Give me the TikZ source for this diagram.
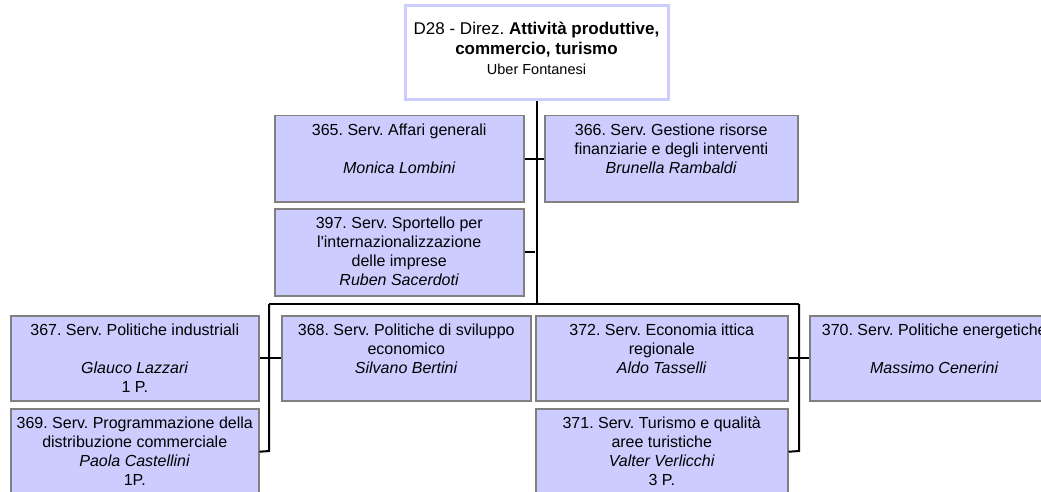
\documentclass[tikz,border=0pt]{standalone}
\usepackage{fontspec}
\setmainfont{Liberation Sans}[Ligatures=TeXOff]
\frenchspacing
\definecolor{lav}{HTML}{CCCCFF}
\definecolor{boxgray}{HTML}{808080}
\newcommand{\bx}[3]{\parbox[c][#2pt][t]{#1pt}{\centering\vspace*{6.5pt}\strut #3\par}}
\tikzset{
  unit/.style={draw=boxgray, fill=lav, line width=1.5pt, inner sep=0pt, anchor=north west,
    font=\fontsize{16}{19}\selectfont},
  headbox/.style={draw=lav, fill=white, line width=3pt, inner sep=0pt, anchor=north west,
    font=\fontsize{17}{20}\selectfont},
  conn/.style={draw=black, line width=2pt}
}
\begin{document}
\begin{tikzpicture}[x=1pt,y=-1pt]
\useasboundingbox (0,0) rectangle (1041,492);
\clip (0,0) rectangle (1041,492);
% head
\node[headbox] (head) at (403.5,4.5) {\parbox[c][94pt][t]{263pt}{\centering\vspace*{14.5pt}\strut D28 - Direz. \textbf{Attività produttive,}\\ \textbf{commercio, turismo}\\ {\fontsize{14.5}{20}\selectfont Uber Fontanesi}\par}};
% junctions
\coordinate (bar) at (535,304);
\coordinate (left) at (269,304);
\coordinate (right) at (799,304);
\coordinate (lend) at (269,451);
\coordinate (rend) at (799,451);
% connectors
\draw[conn] (head.south) -- (head.south |- bar);
\draw[conn] (left) -- (right);
% boxes
\node[unit] (s365) at (274,115) {\bx{249}{86}{365. Serv. Affari generali\\ \mbox{}\\ \textit{Monica Lombini}}};
\node[unit] (s366) at (544,115) {\bx{253}{86}{366. Serv. Gestione risorse\\ finanziarie e degli interventi\\ \textit{Brunella Rambaldi}}};
\node[unit] (s397) at (274,208) {\bx{249}{87}{397. Serv. Sportello per\\ l'internazionalizzazione\\ delle imprese\\ \textit{Ruben Sacerdoti}}};
\node[unit] (s367) at (10,315) {\bx{248}{85}{367. Serv. Politiche industriali\\ \mbox{}\\ \textit{Glauco Lazzari}\\ 1 P.}};
\node[unit] (s368) at (281,315) {\bx{249}{85}{368. Serv. Politiche di sviluppo\\ economico\\ \textit{Silvano Bertini}}};
\node[unit] (s369) at (10,408) {\bx{248}{86}{369. Serv. Programmazione della\\ distribuzione commerciale\\ \textit{Paola Castellini}\\ 1P.}};
\node[unit] (s372) at (535,315) {\bx{252}{85}{372. Serv. Economia ittica\\ regionale\\ \textit{Aldo Tasselli}}};
\node[unit] (s370) at (809,315) {\bx{249}{85}{370. Serv. Politiche energetiche\\ \mbox{}\\ \textit{Massimo Cenerini}}};
\node[unit] (s371) at (535,408) {\bx{252}{86}{371. Serv. Turismo e qualità\\ aree turistiche\\ \textit{Valter Verlicchi}\\ 3 P.}};
% box connectors
\draw[conn] (s365.east) -- (s366.west);
\draw[conn] (s397.east) -- (s397.east -| bar);
\draw[conn] (left) -- (lend) -- (s369.east);
\draw[conn] (s367.east) -- (s368.west);
\draw[conn] (right) -- (rend) -- (s371.east);
\draw[conn] (s372.east) -- (s370.west);
\end{tikzpicture}
\end{document}
